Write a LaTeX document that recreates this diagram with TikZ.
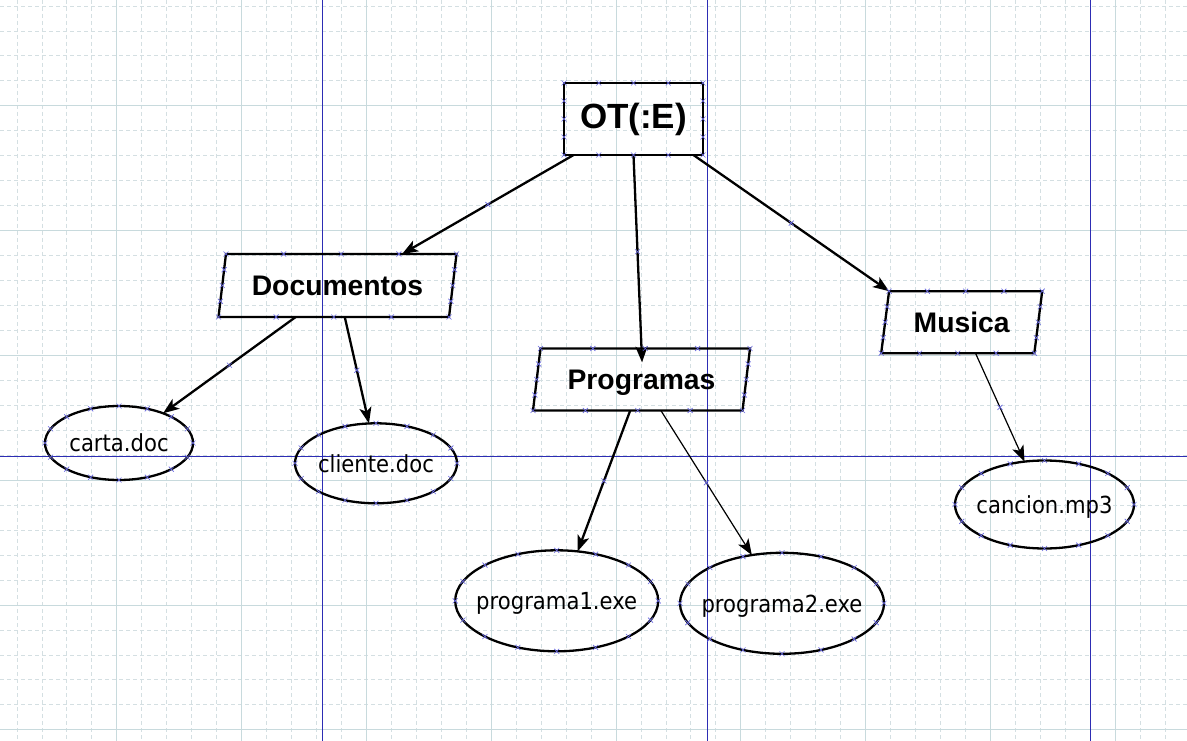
\documentclass[tikz,border=0pt]{standalone}
\usepackage{fontspec}
\setmainfont{Liberation Sans}
\newfontfamily\dejavu[FakeStretch=0.9]{DejaVu Sans}
\usetikzlibrary{arrows.meta,shapes.geometric,calc}
\definecolor{gridmin}{RGB}{212,223,226}
\definecolor{gridmaj}{RGB}{200,218,221}
\definecolor{pageblue}{RGB}{45,45,180}
\definecolor{cpblue}{RGB}{105,105,225}
\tikzset{
  box/.style={draw,line width=2.6pt,rectangle,inner sep=0pt,outer sep=0pt,font=\fontsize{35}{38}\selectfont\bfseries},
  folder/.style={draw,line width=2.3pt,trapezium,trapezium left angle=69,trapezium right angle=111,trapezium stretches body,inner sep=0pt,outer sep=0pt,text depth=0pt,font=\fontsize{28.3}{30}\selectfont\bfseries},
  file/.style={draw,line width=2.3pt,ellipse,inner xsep=-20pt,inner ysep=0pt,outer sep=0pt,text depth=0pt,font=\dejavu\fontsize{23.5}{26}\selectfont},
  arr/.style={line width=2.3pt,-{Stealth[length=16pt,width=12pt,inset=4pt]}},
  thinarr/.style={line width=1.2pt,-{Stealth[length=16pt,width=12pt,inset=4pt]}},
  cpx/.pic={\draw[cpblue,line width=0.6pt] (-2.5,-2.5)--(2.5,2.5) (-2.5,2.5)--(2.5,-2.5);}
}
\newcommand\link[3][arr]{\draw[#1] (#2) -- (#3); \pic at ($(#2)!.5!(#3)$) {cpx};}
\begin{document}
\begin{tikzpicture}[x=1pt,y=-1pt]
\useasboundingbox (0,0) rectangle (1187,741);
\fill[white] (0,0) rectangle (1187,741);
\foreach \k in {0,...,47} \draw[gridmin,line width=0.8pt,dash pattern=on 4pt off 3pt] ({16.96+24.96*\k},0) -- ++(0,741);
\foreach \k in {0,...,29} \draw[gridmin,line width=0.8pt,dash pattern=on 4pt off 3pt] (0,{5.96+24.96*\k}) -- ++(1187,0);
\foreach \k in {0,...,8} \draw[gridmaj,line width=1pt] ({116.8+124.8*\k},0) -- ++(0,741);
\foreach \k in {0,...,5} \draw[gridmaj,line width=1pt] (0,{105.8+124.8*\k}) -- ++(1187,0);
\draw[pageblue,line width=1pt] (322,0)--(322,741) (707,0)--(707,741) (1090,0)--(1090,741) (0,456.5)--(1187,456.5);

\node[box,minimum width=139pt,minimum height=72pt] (ot) at (633.5,119) {OT(:E)};
\node[folder,minimum width=238pt,minimum height=63pt] (doc) at (337.5,285.5) {Documentos};
\node[folder,minimum width=217pt,minimum height=62pt] (prog) at (641.5,379.5) {Programas};
\node[folder,minimum width=161pt,minimum height=62pt] (mus) at (961.7,322.2) {Musica};
\node[file,minimum width=148pt,minimum height=74pt] (carta) at (119,443) {carta.doc};
\node[file,minimum width=162pt,minimum height=80pt] (cliente) at (376,463.3) {cliente.doc};
\node[file,minimum width=203pt,minimum height=101pt] (prog1) at (556.7,600.8) {programa1.exe};
\node[file,minimum width=204pt,minimum height=101pt] (prog2) at (782,603.3) {programa2.exe};
\node[file,minimum width=179pt,minimum height=88pt] (cancion) at (1044.5,504.5) {cancion.mp3};

\link{ot.211}{doc.26}
\draw[arr,shorten >=-14pt] (ot.south) -- (prog.north);
\pic at ($(ot.south)!.5!(prog.north)$) {cpx};
\link{ot.-31}{mus.top left corner}
\link{doc.-143.6}{carta.34}
\link{doc.-77}{cliente.100.5}
\link{prog.-110}{prog1.67}
\link[thinarr]{prog.-58.7}{prog2.122}
\link[thinarr]{mus.-66.4}{cancion.115.8}

\foreach \p/\q in {north west/north east,north east/south east,south east/south west,south west/north west}
  \foreach \t in {0,0.25,0.5,0.75} \pic at ($(ot.\p)!\t!(ot.\q)$) {cpx};
\foreach \n in {doc,prog,mus}
  \foreach \p/\q in {top left corner/top right corner,top right corner/bottom right corner,bottom right corner/bottom left corner,bottom left corner/top left corner}
    \foreach \t in {0,0.25,0.5,0.75} \pic at ($(\n.\p)!\t!(\n.\q)$) {cpx};
\foreach \n/\rx/\ry in {carta/74/37,cliente/81/40,prog1/101.5/50.5,prog2/102/50.5,cancion/89.5/44}
  \foreach \a in {0,22.5,...,337.5} \pic at ($(\n.center)+({\rx*cos(\a)},{\ry*sin(\a)})$) {cpx};
\end{tikzpicture}
\end{document}
